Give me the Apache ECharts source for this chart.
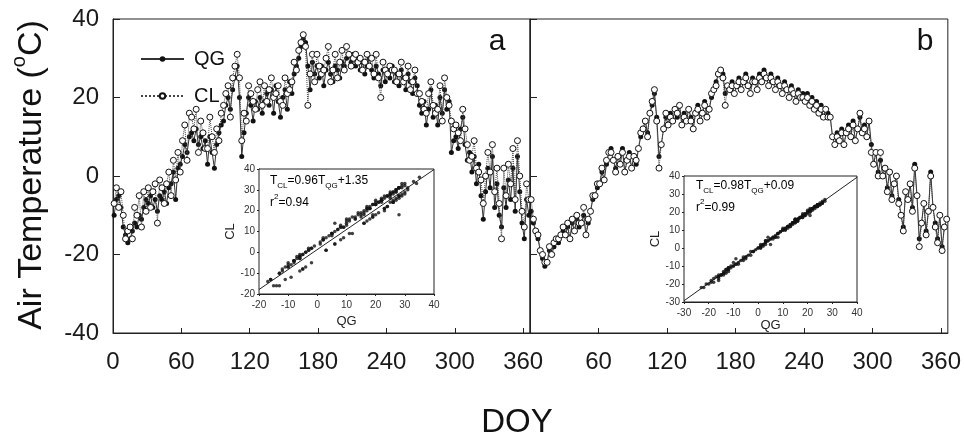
<!DOCTYPE html>
<html><head><meta charset="utf-8">
<script src="https://cdn.jsdelivr.net/npm/echarts@6/dist/echarts.min.js"></script>
<style>html,body{margin:0;padding:0;background:#fff}#c{width:964px;height:439px}</style>
</head><body><div id="c"></div>
<script>
// Sampled day-of-year (every second day)
const sampleDays = Array.from({length:183}, (_, i) => 2 * i + 1);
const xTicks = [0, 60, 120, 180, 240, 300, 360];
const yTicks = [-40, -20, 0, 20, 40];

// Panel a
const qgA = [
 -10,-6,-5,-8,-13,-15,-17,-16,-14,-12,-13,-10,-11,-8,-6,
 -7,-5,-8,-6,-9,-5,-6,-4,-7,-3,-2,1,-6,2,3,
 5,8,6,10,11,9,12,8,10,7,9,3,10,6,2,
 8,11,13,14,18,20,17,22,25,28,20,5,11,16,20,
 18,14,19,17,20,16,19,21,18,22,16,23,19,15,20,
 22,17,24,21,26,28,30,33,35,34,28,22,29,26,28,
 25,28,23,27,29,26,24,28,27,25,29,28,30,31,29,
 31,28,30,27,29,26,28,30,27,25,28,26,23,27,24,
 27,25,28,24,26,23,27,25,22,26,24,21,25,23,18,
 16,19,13,17,22,15,18,13,20,16,22,17,19,6,9,
 10,7,12,15,8,4,6,1,5,-2,3,-5,-11,-4,2,
 -3,5,-8,-2,-10,-13,-3,-8,-1,-6,2,-9,5,-4,-12,-16,-6,-10
];
const clA = [
 -7,-3,-8,-4,-10,-16,-14,-13,-16,-8,-10,-5,-13,-4,-9,
 -3,-8,-4,-2,-12,-1,-3,-7,-2,1,-5,4,-1,6,1,
 9,13,4,16,15,12,17,6,14,11,7,7,15,10,6,
 12,9,16,18,21,23,15,25,28,31,25,9,16,14,23,
 21,19,17,22,24,18,23,19,22,25,20,21,23,19,18,
 25,21,22,24,29,27,32,34,36,33,18,26,31,24,31,
 28,26,27,30,33,24,27,31,25,29,32,27,33,31,28,
 30,31,29,30,27,29,31,28,30,26,31,25,20,29,27,
 26,28,27,27,24,26,29,24,25,28,22,24,27,21,21,
 19,17,16,21,24,18,16,17,23,14,25,20,18,14,12,
 13,11,9,17,12,8,4,5,9,2,1,-1,-7,0,6,
 1,8,-4,2,-7,-16,2,-5,3,-2,7,-6,9,0,-9,-13,-2,-6
];

// Panel b
const qgB = [
 -9,-12,-14,-16,-19,-21,-23,-22,-19,-20,-18,-16,-17,-15,-14,
 -15,-13,-16,-12,-14,-11,-13,-12,-10,-15,-12,-9,-6,-5,-3,
 -2,1,-1,3,6,7,4,2,5,3,7,1,4,6,2,
 5,3,7,10,12,14,11,16,18,21,15,5,8,12,15,
 13,16,14,17,15,18,13,16,14,17,15,12,16,18,14,
 16,19,15,17,20,22,24,26,27,26,21,23,22,24,21,
 23,25,22,24,26,23,21,25,24,22,26,24,27,25,23,
 26,24,22,25,23,21,24,22,20,23,21,19,22,20,21,
 19,21,18,20,17,19,16,18,15,17,16,15,10,8,11,
 9,12,8,11,13,10,14,9,12,15,11,13,10,14,8,
 3,6,1,4,0,2,-3,1,-5,-2,0,-6,-10,-13,-4,
 -6,-2,-8,3,-5,-16,-12,-7,-14,-9,1,-8,-12,-16,-10,-18,-13,-11
];
const clB = [
 -6,-11,-14,-15,-19,-20,-22,-22,-18,-20,-17,-16,-16,-15,-13,
 -15,-12,-16,-11,-14,-10,-12,-12,-8,-15,-11,-9,-5,-5,-2,
 -2,2,-1,4,6,6,4,1,5,3,6,1,4,5,2,
 5,4,7,11,12,14,10,16,19,22,14,2,8,12,16,
 13,15,14,17,16,18,13,15,14,17,14,12,16,17,14,
 16,18,15,17,21,22,23,26,27,25,18,23,22,23,21,
 23,24,22,24,25,23,21,24,24,22,25,24,26,25,23,
 25,24,22,24,23,21,23,22,20,22,21,19,21,20,20,
 19,20,18,19,17,18,16,17,15,17,15,15,10,8,10,
 9,11,8,11,12,10,13,9,12,16,11,12,10,14,6,
 3,6,0,6,0,2,-4,1,-6,-2,0,-7,-10,-14,-4,
 -6,-2,-9,2,-5,-18,-12,-7,-15,-9,0,-8,-13,-17,-10,-19,-13,-11
];

// Regression fits shown in the insets
const fitA = [0.96, 1.35];   // slope, intercept
const fitB = [0.98, 0.09];
const r2A = 0.94, r2B = 0.99;
const insetRangeA = [-20, 40];
const insetRangeB = [-30, 40];

const FONT = '"Liberation Sans", Arial, sans-serif';
const pairs = (xs, ys) => xs.map((v, i) => [v, ys[i]]);
const fitLine = (f, r) => [[r[0], f[0] * r[0] + f[1]], [r[1], f[0] * r[1] + f[1]]];

function mainX(gi, showZero) {
  return {
    gridIndex: gi, type: 'value', min: 0, max: 366, interval: 60,
    axisLine: { show: true, onZero: false, lineStyle: { color: '#222', width: 1 } },
    axisTick: { show: true, inside: true, length: 5, lineStyle: { color: '#222' } },
    axisLabel: { fontSize: 24, color: '#1a1a1a', fontFamily: FONT, margin: 17,
      showMaxLabel: false, showMinLabel: showZero,
      formatter: v => xTicks.indexOf(v) >= 0 ? String(v) : '' },
    splitLine: { show: false }
  };
}
function mainY(gi, showLabels) {
  return {
    gridIndex: gi, type: 'value', min: -40, max: 40, interval: 20,
    axisLine: { show: true, onZero: false, lineStyle: { color: '#222', width: 1 } },
    axisTick: { show: true, inside: true, length: 7, lineStyle: { color: '#222' } },
    axisLabel: { show: showLabels, fontSize: 24, color: '#1a1a1a', fontFamily: FONT, margin: 14,
      formatter: v => yTicks.indexOf(v) >= 0 ? String(v) : '' },
    splitLine: { show: false }
  };
}
function insetX(gi, r, gap) {
  return {
    gridIndex: gi, type: 'value', min: r[0], max: r[1], interval: 10,
    name: 'QG', nameLocation: 'middle', nameGap: gap,
    nameTextStyle: { fontSize: 13, color: '#222', fontFamily: FONT },
    axisLine: { show: true, onZero: false, lineStyle: { color: '#222', width: 1 } },
    axisTick: { show: true, length: 2, lineStyle: { color: '#222' } },
    axisLabel: { fontSize: 10, color: '#333', fontFamily: FONT, margin: 6 },
    splitLine: { show: false }
  };
}
function insetY(gi, r, gap) {
  return {
    gridIndex: gi, type: 'value', min: r[0], max: r[1], interval: 10,
    name: 'CL', nameLocation: 'middle', nameGap: gap, nameRotate: 90,
    nameTextStyle: { fontSize: 13, color: '#222', fontFamily: FONT },
    axisLine: { show: true, onZero: false, lineStyle: { color: '#222', width: 1 } },
    axisTick: { show: true, length: 2, lineStyle: { color: '#222' } },
    axisLabel: { fontSize: 10, color: '#333', fontFamily: FONT, margin: 4 },
    splitLine: { show: false }
  };
}
function qgSeries(xi, data) {
  return { name: 'QG', type: 'line', xAxisIndex: xi, yAxisIndex: xi,
    data: pairs(sampleDays, data), symbol: 'circle', symbolSize: 5, showAllSymbol: true,
    itemStyle: { color: '#111' }, lineStyle: { color: '#333', width: 1 }, z: 3 };
}
function clSeries(xi, data) {
  return { name: 'CL', type: 'line', xAxisIndex: xi, yAxisIndex: xi,
    data: pairs(sampleDays, data), symbol: 'circle', symbolSize: 6, showAllSymbol: true,
    itemStyle: { color: '#fff', borderColor: '#111', borderWidth: 1 },
    lineStyle: { color: '#444', width: 1, type: 'dotted' }, z: 4 };
}
function eqText(f) {
  return '{n|T}{s|CL}{n|=' + f[0].toFixed(2) + 'T}{s|QG}{n|+' + f[1].toFixed(2) + '}';
}
const eqRich = {
  n: { fontSize: 12, fontFamily: FONT, color: '#111', lineHeight: 14, verticalAlign: 'top' },
  s: { fontSize: 8, fontFamily: FONT, color: '#111', lineHeight: 8, padding: [7, 0, 0, 0], verticalAlign: 'top' }
};
const r2Rich = {
  n: { fontSize: 12, fontFamily: FONT, color: '#111', lineHeight: 14, padding: [4, 0, 0, 0], verticalAlign: 'top' },
  p: { fontSize: 8, fontFamily: FONT, color: '#111', lineHeight: 8, verticalAlign: 'top' }
};

const chart = echarts.init(document.getElementById('c'), null, { renderer: 'canvas' });
chart.setOption({
  animation: false,
  backgroundColor: '#fff',
  textStyle: { fontFamily: FONT },
  grid: [
    { left: 113, top: 19, width: 417, height: 314, show: true, borderColor: '#222', borderWidth: 1 },
    { left: 530, top: 19, width: 418, height: 314, show: true, borderColor: '#222', borderWidth: 1 },
    { left: 259, top: 169, width: 175, height: 125, show: true, borderColor: '#222', borderWidth: 1, backgroundColor: '#fff', z: 5 },
    { left: 684, top: 176, width: 173, height: 126, show: true, borderColor: '#222', borderWidth: 1, backgroundColor: '#fff', z: 5 }
  ],
  xAxis: [ mainX(0, true), mainX(1, false), insetX(2, insetRangeA, 21), insetX(3, insetRangeB, 17) ],
  yAxis: [ mainY(0, true), mainY(1, false), insetY(2, insetRangeA, 21), insetY(3, insetRangeB, 20) ],
  legend: {
    data: ['QG', 'CL'], orient: 'vertical', left: 135, top: 44,
    itemWidth: 43, itemHeight: 7, itemGap: 17,
    textStyle: { fontSize: 20, color: '#111', fontFamily: FONT, padding: [0, 0, 0, 5] }
  },
  series: [
    qgSeries(0, qgA), clSeries(0, clA),
    qgSeries(1, qgB), clSeries(1, clB),
    { name: 'scatterA', type: 'scatter', xAxisIndex: 2, yAxisIndex: 2, data: pairs(qgA, clA),
      symbolSize: 3.5, itemStyle: { color: '#111' }, z: 6 },
    { name: 'fitA', type: 'line', xAxisIndex: 2, yAxisIndex: 2, data: fitLine(fitA, insetRangeA),
      symbol: 'none', lineStyle: { color: '#222', width: 1 }, z: 6 },
    { name: 'scatterB', type: 'scatter', xAxisIndex: 3, yAxisIndex: 3, data: pairs(qgB, clB),
      symbolSize: 3.5, itemStyle: { color: '#111' }, z: 6 },
    { name: 'fitB', type: 'line', xAxisIndex: 3, yAxisIndex: 3, data: fitLine(fitB, insetRangeB),
      symbol: 'none', lineStyle: { color: '#222', width: 1 }, z: 6 }
  ],
  graphic: [
    { type: 'text', x: 29, y: 175, rotation: Math.PI / 2, z: 10,
      style: { text: '{n|Air Temperature (}{s|o}{n|C)}', align: 'center', verticalAlign: 'middle', fill: '#111',
        rich: { n: { fontSize: 34, fontFamily: FONT, color: '#111', lineHeight: 40, verticalAlign: 'bottom' },
                s: { fontSize: 20, fontFamily: FONT, color: '#111', lineHeight: 22, verticalAlign: 'top' } } } },
    { type: 'text', x: 517, y: 423, z: 10,
      style: { text: 'DOY', fontSize: 33, fontFamily: FONT, fill: '#111', align: 'center', verticalAlign: 'middle' } },
    { type: 'text', x: 497, y: 42, z: 10,
      style: { text: 'a', fontSize: 30, fontFamily: FONT, fill: '#111', align: 'center', verticalAlign: 'middle' } },
    { type: 'text', x: 925, y: 42, z: 10,
      style: { text: 'b', fontSize: 30, fontFamily: FONT, fill: '#111', align: 'center', verticalAlign: 'middle' } },
    { type: 'text', x: 270, y: 182, z: 20,
      style: { text: eqText(fitA), rich: eqRich, align: 'left', verticalAlign: 'middle' } },
    { type: 'text', x: 270, y: 200, z: 20,
      style: { text: '{n|r}{p|2}{n|=' + r2A.toFixed(2) + '}', rich: r2Rich, align: 'left', verticalAlign: 'middle' } },
    { type: 'text', x: 696, y: 187, z: 20,
      style: { text: eqText(fitB), rich: eqRich, align: 'left', verticalAlign: 'middle' } },
    { type: 'text', x: 696, y: 205, z: 20,
      style: { text: '{n|r}{p|2}{n|=' + r2B.toFixed(2) + '}', rich: r2Rich, align: 'left', verticalAlign: 'middle' } }
  ]
});
</script>
</body></html>
